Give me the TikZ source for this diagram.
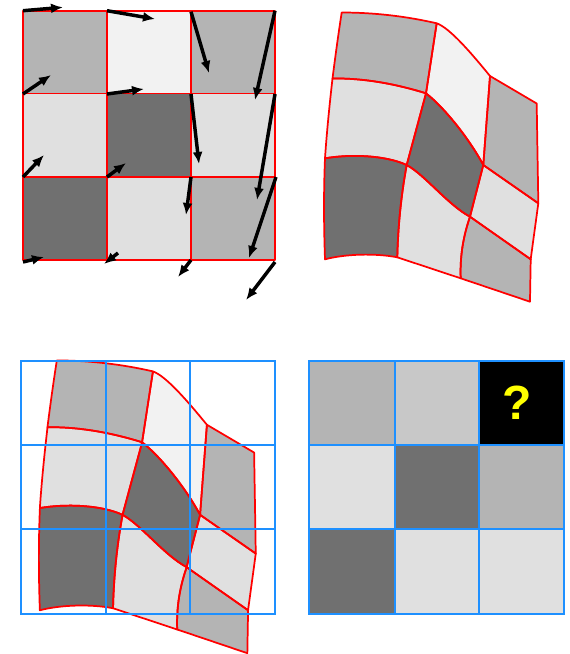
\documentclass[tikz,border=0pt]{standalone}
\usepackage{fontspec}
\newfontfamily\qfont{Liberation Sans}
\usetikzlibrary{arrows.meta}
\definecolor{gA}{RGB}{180,180,180}
\definecolor{gB}{RGB}{242,242,242}
\definecolor{gC}{RGB}{224,224,224}
\definecolor{gD}{RGB}{112,112,112}
\definecolor{gE}{RGB}{200,200,200}
\definecolor{gblue}{RGB}{30,144,255}
\definecolor{qyellow}{RGB}{255,255,0}

\newcommand\cellpath[4]{(v#1#2) .. controls (ha#1#2) and (hb#1#2) .. (v#1#4) .. controls (wa#1#4) and (wb#1#4) .. (v#3#4) .. controls (hb#3#2) and (ha#3#2) .. (v#3#2) .. controls (wb#1#2) and (wa#1#2) .. cycle}

\newcommand\warpgrid{%
  % vertices
  \coordinate (v00) at (341.7,12.5);  \coordinate (v01) at (436.7,23.3);
  \coordinate (v02) at (490,76);      \coordinate (v03) at (536.7,103.5);
  \coordinate (v10) at (332.5,78.5);  \coordinate (v11) at (426,93.3);
  \coordinate (v12) at (483.3,165);   \coordinate (v13) at (538.3,203.3);
  \coordinate (v20) at (325,158.3);   \coordinate (v21) at (406.7,165);
  \coordinate (v22) at (470,216.7);   \coordinate (v23) at (530.7,259.3);
  \coordinate (v30) at (325,259.3);   \coordinate (v31) at (397.3,257.3);
  \coordinate (v32) at (460.7,278.3); \coordinate (v33) at (530,301.7);
  % horizontal edge controls
  \coordinate (ha00) at (373,12.5);    \coordinate (hb00) at (405,16);
  \coordinate (ha01) at (450,28);      \coordinate (hb01) at (472,54);
  \coordinate (ha02) at (505.6,85.2);  \coordinate (hb02) at (521.1,94.3);
  \coordinate (ha10) at (364,78);      \coordinate (hb10) at (396,84);
  \coordinate (ha11) at (445,108);     \coordinate (hb11) at (470,140);
  \coordinate (ha12) at (501.6,177.8); \coordinate (hb12) at (520,190.5);
  \coordinate (ha20) at (350,154);     \coordinate (hb20) at (385,155);
  \coordinate (ha21) at (425,175);     \coordinate (hb21) at (448,205);
  \coordinate (ha22) at (490.2,230.9); \coordinate (hb22) at (510.5,245.1);
  \coordinate (ha30) at (345,254);     \coordinate (hb30) at (375,253);
  \coordinate (ha31) at (418.4,264.3); \coordinate (hb31) at (439.6,271.3);
  \coordinate (ha32) at (483.8,286.1); \coordinate (hb32) at (506.9,293.9);
  % vertical edge controls
  \coordinate (wa00) at (338.3,34.5);  \coordinate (wb00) at (335.3,56.5);
  \coordinate (wa10) at (329.5,105.1); \coordinate (wb10) at (326.8,131.7);
  \coordinate (wa20) at (323.6,192);   \coordinate (wb20) at (323.8,226);
  \coordinate (wa01) at (433.1,46.6);  \coordinate (wb01) at (429.6,70);
  \coordinate (wa11) at (419.6,117.2); \coordinate (wb11) at (413.1,141.1);
  \coordinate (wa21) at (401,196);     \coordinate (wb21) at (398,227);
  \coordinate (wa02) at (487.8,105.7); \coordinate (wb02) at (485.5,135.3);
  \coordinate (wa12) at (478.9,182.2); \coordinate (wb12) at (474.4,199.5);
  \coordinate (wa22) at (462,240);     \coordinate (wb22) at (460,260);
  \coordinate (wa03) at (537.2,136.8); \coordinate (wb03) at (537.8,170);
  \coordinate (wa13) at (535.8,222);   \coordinate (wb13) at (533.2,240.6);
  \coordinate (wa23) at (530.5,273.4); \coordinate (wb23) at (530.2,287.6);
  % fills
  \foreach \i/\j/\c in {0/0/gA,0/1/gB,0/2/gA,1/0/gC,1/1/gD,1/2/gC,2/0/gD,2/1/gC,2/2/gA}{%
    \pgfmathtruncatemacro\I{\i+1}\pgfmathtruncatemacro\J{\j+1}%
    \fill[\c] \cellpath{\i}{\j}{\I}{\J};
  }
  % red outlines
  \foreach \i/\j in {0/0,0/1,0/2,1/0,1/1,1/2,2/0,2/1,2/2}{%
    \pgfmathtruncatemacro\I{\i+1}\pgfmathtruncatemacro\J{\j+1}%
    \draw[redline] \cellpath{\i}{\j}{\I}{\J};
  }
}

\begin{document}
\begin{tikzpicture}[x=0.75pt,y=-0.75pt,
  redline/.style={draw=red,line width=1.3pt,line join=round},
  blueline/.style={draw=gblue,line width=1.5pt},
  vec/.style={line width=2.6pt,-{Latex[length=9pt,width=7.5pt]}}]
\useasboundingbox (0,0) rectangle (569,654);

% ---------- Quadrant 1: regular grid with displacement arrows ----------
\fill[gA] (23,10.7) rectangle (107,93.5);
\fill[gB] (107,10.7) rectangle (191,93.5);
\fill[gA] (191,10.7) rectangle (275,93.5);
\fill[gC] (23,93.5) rectangle (107,177);
\fill[gD] (107,93.5) rectangle (191,177);
\fill[gC] (191,93.5) rectangle (275,177);
\fill[gD] (23,177) rectangle (107,260);
\fill[gC] (107,177) rectangle (191,260);
\fill[gA] (191,177) rectangle (275,260);
\draw[redline] (23,10.7) rectangle (275,260);
\draw[redline] (107,10.7) -- (107,260) (191,10.7) -- (191,260)
               (23,93.5) -- (275,93.5) (23,177) -- (275,177);

\draw[vec] (23,10.7) -- (63,7.3);
\draw[vec] (107,10.7) -- (155,19);
\draw[vec] (191,11.7) -- (209,73);
\draw[vec] (275,10.7) -- (255,100);
\draw[vec] (23,94) -- (51,75);
\draw[vec] (107,94) -- (144,89);
\draw[vec] (191,94) -- (199,164);
\draw[vec] (275,94) -- (257,200);
\draw[vec] (23,177) -- (44,155);
\draw[vec] (107,177) -- (126,163);
\draw[vec] (191,177) -- (186,215);
\draw[vec] (276,177) -- (249,258);
\draw[vec] (23,262) -- (44,257);
\draw[vec] (118,253) -- (104,264);
\draw[vec] (191,260) -- (178,277);
\draw[vec] (275,262) -- (246,300);

% ---------- Quadrant 2: warped grid ----------
\begin{scope}
\warpgrid
\end{scope}

% ---------- Quadrant 3: warped grid with blue sampling grid ----------
\begin{scope}[shift={(-289.1,347.8)},scale=1.012]
\warpgrid
\end{scope}
\draw[blueline] (21,361) rectangle (275,614);
\draw[blueline] (106,361) -- (106,614) (190,361) -- (190,614)
                (21,445) -- (275,445) (21,529) -- (275,529);

% ---------- Quadrant 4: resampled grid ----------
\fill[gA] (309.3,360.7) rectangle (394.7,445);
\fill[gE] (394.7,360.7) rectangle (478.7,445);
\fill[black] (478.7,360.7) rectangle (564,445);
\fill[gC] (309.3,445) rectangle (394.7,529);
\fill[gD] (394.7,445) rectangle (478.7,529);
\fill[gA] (478.7,445) rectangle (564,529);
\fill[gD] (309.3,529) rectangle (394.7,614);
\fill[gC] (394.7,529) rectangle (478.7,614);
\fill[gC] (478.7,529) rectangle (564,614);
\draw[blueline] (309.3,360.7) rectangle (564,614);
\draw[blueline] (394.7,360.7) -- (394.7,614) (478.7,360.7) -- (478.7,614)
                (309.3,445) -- (564,445) (309.3,529) -- (564,529);
\node[text=qyellow,font=\qfont\bfseries\fontsize{36}{36}\selectfont,inner sep=0pt]
  (q) at (517,403) {?};
\end{tikzpicture}
\end{document}
